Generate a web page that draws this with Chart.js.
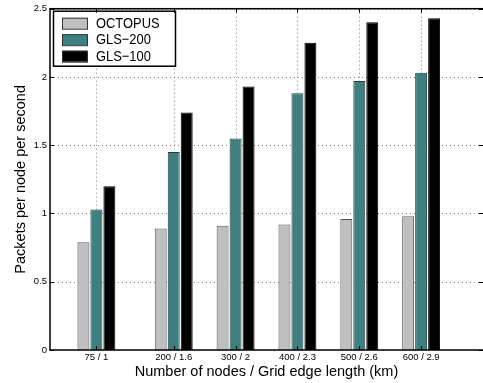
<!DOCTYPE html>
<html>
<head>
<meta charset="utf-8">
<script src="https://cdn.jsdelivr.net/npm/chart.js@4"></script>
<style>
  html, body { margin: 0; padding: 0; background: #fff; }
  #wrap { width: 483px; height: 383px; }
</style>
</head>
<body>
<div id="wrap"><canvas id="myChart" width="483" height="383"></canvas></div>
<script>
// x positions (number of nodes) and their labels
const nodes = [75, 200, 300, 400, 500, 600];
const tickLabels = ['75 / 1', '200 / 1.6', '300 / 2', '400 / 2.3', '500 / 2.6', '600 / 2.9'];
const octopus = [0.79, 0.89, 0.91, 0.92, 0.96, 0.98];
const gls200 = [1.03, 1.45, 1.55, 1.88, 1.97, 2.03];
const gls100 = [1.20, 1.74, 1.93, 2.25, 2.40, 2.43];
const yTicks = [0, 0.5, 1, 1.5, 2, 2.5];

const toPoints = vals => vals.map((v, i) => ({ x: nodes[i], y: v }));
const FONT = 'Liberation Sans, Arial, Helvetica, sans-serif';

// legend box drawn inside the plot area, top-left
const boxLegend = {
  id: 'boxLegend',
  afterDraw(chart) {
    const { ctx, chartArea } = chart;
    const x0 = chartArea.left + 3, y0 = chartArea.top + 2;
    const w = 122, h = 55;
    ctx.save();
    ctx.fillStyle = '#fff';
    ctx.fillRect(x0, y0, w, h);
    ctx.strokeStyle = '#000';
    ctx.lineWidth = 1.5;
    ctx.strokeRect(x0 + 0.5, y0 + 0.5, w, h);
    ctx.font = '15px ' + FONT;
    ctx.textBaseline = 'middle';
    ctx.lineWidth = 1;
    chart.data.datasets.forEach((ds, i) => {
      const cy = y0 + 12 + i * 16.5;
      ctx.fillStyle = ds.backgroundColor;
      ctx.fillRect(x0 + 9, cy - 5, 25, 11);
      ctx.strokeStyle = '#333';
      ctx.strokeRect(x0 + 9.5, cy - 4.5, 25, 11);
      ctx.fillStyle = '#000';
      ctx.save();
      ctx.translate(x0 + 43, cy + 1);
      ctx.scale(0.86, 1);
      ctx.fillText(ds.label, 0, 0);
      ctx.restore();
    });
    ctx.restore();
  }
};

// dotted grid behind the bars, inward tick marks and frame
const gridAndFrame = {
  id: 'gridAndFrame',
  beforeDatasetsDraw(chart) {
    const { ctx, chartArea, scales } = chart;
    ctx.save();
    ctx.strokeStyle = '#808080';
    ctx.lineWidth = 1;
    ctx.setLineDash([1, 3]);
    ctx.beginPath();
    nodes.forEach(v => {
      const px = Math.round(scales.x.getPixelForValue(v)) + 0.5;
      ctx.moveTo(px, chartArea.top); ctx.lineTo(px, chartArea.bottom);
    });
    yTicks.forEach(v => {
      const py = Math.round(scales.y.getPixelForValue(v)) + 0.5;
      ctx.moveTo(chartArea.left, py); ctx.lineTo(chartArea.right, py);
    });
    ctx.stroke();
    ctx.restore();
  },
  afterDraw(chart) {
    const { ctx, chartArea, scales } = chart;
    ctx.save();
    ctx.strokeStyle = '#000';
    ctx.lineWidth = 1;
    ctx.beginPath();
    nodes.forEach(v => {
      const px = Math.round(scales.x.getPixelForValue(v)) + 0.5;
      ctx.moveTo(px, chartArea.bottom); ctx.lineTo(px, chartArea.bottom - 4);
      ctx.moveTo(px, chartArea.top); ctx.lineTo(px, chartArea.top + 4);
    });
    yTicks.forEach(v => {
      const py = Math.round(scales.y.getPixelForValue(v)) + 0.5;
      ctx.moveTo(chartArea.left, py); ctx.lineTo(chartArea.left + 4, py);
      ctx.moveTo(chartArea.right, py); ctx.lineTo(chartArea.right - 4, py);
    });
    ctx.stroke();
    ctx.lineWidth = 1.5;
    ctx.strokeRect(chartArea.left, chartArea.top, chartArea.right - chartArea.left + 2, chartArea.bottom - chartArea.top);
    ctx.restore();
  }
};

new Chart(document.getElementById('myChart'), {
  type: 'bar',
  data: {
    datasets: [
      { label: 'OCTOPUS', data: toPoints(octopus), backgroundColor: '#bfbfbf', borderColor: '#555', borderWidth: 1 },
      { label: 'GLS\u2212200', data: toPoints(gls200), backgroundColor: '#3f7f7f', borderColor: '#1f3f3f', borderWidth: 1 },
      { label: 'GLS\u2212100', data: toPoints(gls100), backgroundColor: '#000000', borderColor: '#000', borderWidth: 1 }
    ]
  },
  options: {
    responsive: false,
    animation: false,
    layout: { padding: { top: 3, right: 0, left: 0, bottom: 0 } },
    datasets: { bar: { categoryPercentage: 0.63, barPercentage: 0.92 } },
    plugins: { legend: { display: false }, tooltip: { enabled: false } },
    scales: {
      x: {
        type: 'linear',
        min: 0,
        max: 700,
        offset: false,
        afterBuildTicks: s => { s.ticks = nodes.map(v => ({ value: v })); },
        afterFit: s => { s.height = 33; },
        grid: { display: false, drawTicks: false },
        border: { display: false },
        ticks: {
          padding: 2,
          color: '#000',
          font: { size: 9.5, family: FONT },
          maxRotation: 0,
          callback: v => tickLabels[nodes.indexOf(v)]
        },
        title: { display: true, text: 'Number of nodes / Grid edge length (km)', color: '#000', font: { size: 14.5, family: FONT }, padding: { top: 0, bottom: 2 } }
      },
      y: {
        min: 0,
        max: 2.5,
        afterBuildTicks: s => { s.ticks = yTicks.map(v => ({ value: v })); },
        afterFit: s => { s.width = 50; },
        grid: { display: false, drawTicks: false },
        border: { display: false },
        ticks: { padding: 3, color: '#000', font: { size: 9.5, family: FONT }, callback: v => String(v) },
        title: { display: true, text: 'Packets per node per second', color: '#000', font: { size: 14.5, family: FONT }, padding: { top: 12, bottom: 0 } }
      }
    }
  },
  plugins: [boxLegend, gridAndFrame]
});
</script>
</body>
</html>
